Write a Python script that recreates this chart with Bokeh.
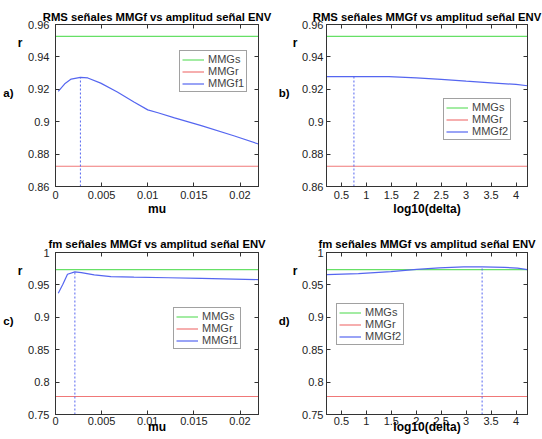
from bokeh.plotting import figure
from bokeh.layouts import column, row
from bokeh.models import Range1d, FixedTicker, LinearAxis, Legend, LegendItem
from bokeh.embed import file_html
from bokeh.resources import INLINE

# ---------------- data ----------------
title_rms = "RMS señales MMGf vs amplitud señal ENV"
title_fm = "fm señales MMGf vs amplitud señal ENV"

# panel a (RMS vs mu)
a_mu = [0.0003, 0.001, 0.0017, 0.0027, 0.0035, 0.0049, 0.0067, 0.0085, 0.010, 0.0111, 0.0129, 0.0158, 0.0194, 0.022]
a_r = [0.9187, 0.9234, 0.9263, 0.9274, 0.9270, 0.9238, 0.9183, 0.9121, 0.9073, 0.9055, 0.9024, 0.8976, 0.8912, 0.8862]
a_peak = (0.0027, 0.9274)

# panel b (RMS vs log10(delta))
b_delta = [0.2, 0.7, 1.0, 1.45, 2.0, 2.5, 3.0, 3.5, 4.0, 4.23]
b_r = [0.9278, 0.9278, 0.9278, 0.9278, 0.9271, 0.9261, 0.9250, 0.9240, 0.9230, 0.9222]
b_peak = (0.75, 0.9278)

rms_mmgs = 0.9527
rms_mmgr = 0.8725

# panel c (fm vs mu)
c_mu = [0.0003, 0.0008, 0.0013, 0.0021, 0.0028, 0.0042, 0.006, 0.0085, 0.0122, 0.0158, 0.022]
c_r = [0.9371, 0.951, 0.9665, 0.9701, 0.969, 0.9655, 0.9629, 0.962, 0.961, 0.960, 0.9582]
c_peak = (0.0021, 0.9701)

# panel d (fm vs log10(delta))
d_delta = [0.2, 0.84, 1.49, 2.01, 2.46, 2.95, 3.32, 3.77, 4.03, 4.23]
d_r = [0.966, 0.9675, 0.9706, 0.974, 0.9763, 0.9778, 0.9778, 0.977, 0.976, 0.9737]
d_peak = (3.32, 0.9778)

fm_mmgs = 0.9737
fm_mmgr = 0.7778

mu_ticks = [0, 0.005, 0.01, 0.015, 0.02]
mu_labels = ["0", "0.005", "0.01", "0.015", "0.02"]
delta_ticks = [0.5, 1, 1.5, 2, 2.5, 3, 3.5, 4]
delta_labels = ["0.5", "1", "1.5", "2", "2.5", "3", "3.5", "4"]
rms_ticks = [0.86, 0.88, 0.90, 0.92, 0.94, 0.96]
rms_labels = ["0.86", "0.88", "0.9", "0.92", "0.94", "0.96"]
fm_ticks = [0.75, 0.80, 0.85, 0.90, 0.95, 1.0]
fm_labels = ["0.75", "0.8", "0.85", "0.9", "0.95", "1"]

mu_range = (0, 0.022)
delta_range = (0.2, 4.23)
rms_range = (0.86, 0.96)
fm_range = (0.75, 1.0)

FONT = "Liberation Sans"
GREEN = "#66e066"
RED = "#f07878"
BLUE = "#5566f0"
AX = "#333333"


def text_axis(ticks, labels, standoff, size):
    ax = LinearAxis(ticker=FixedTicker(ticks=ticks), major_label_overrides=dict(zip(ticks, labels)))
    ax.axis_line_color = None
    ax.major_tick_line_color = None
    ax.minor_tick_line_color = None
    ax.major_tick_in = 0
    ax.major_tick_out = 0
    ax.major_label_standoff = standoff
    ax.major_label_text_font = FONT
    ax.major_label_text_font_style = "bold"
    ax.major_label_text_font_size = size
    ax.major_label_text_color = "black"
    return ax


def make_panel(xs, ys, peak, mmgs, mmgr, xr, yr, xt, xl, yt, yl, title, xlabel,
               panel_label, fname, size, borders, legend_loc, num_standoff,
               r_standoff, p_standoff, tick_standoff, xlab_standoff, title_standoff):
    w, h = size
    bl, br, bt, bb = borders
    p = figure(width=w, height=h, min_border_left=bl, min_border_right=br,
               min_border_top=bt, min_border_bottom=bb,
               x_range=Range1d(*xr), y_range=Range1d(*yr),
               output_backend="svg", toolbar_location=None, x_axis_type=None, y_axis_type=None)
    p.grid.visible = False
    p.outline_line_color = AX
    p.outline_line_width = 1
    p.background_fill_color = "white"
    p.border_fill_color = "white"

    p.title.text = title
    p.title.align = "center"
    p.title.text_font = FONT
    p.title.text_font_size = "11.3px"
    p.title.text_font_style = "bold"
    p.title.text_color = "black"
    p.title.standoff = title_standoff

    xb = LinearAxis(ticker=FixedTicker(ticks=xt), major_label_overrides=dict(zip(xt, xl)))
    xtop = LinearAxis(ticker=FixedTicker(ticks=xt), major_label_overrides={t: "" for t in xt})
    yl_ax = LinearAxis(ticker=FixedTicker(ticks=yt), major_label_overrides=dict(zip(yt, yl)))
    yr_ax = LinearAxis(ticker=FixedTicker(ticks=yt), major_label_overrides={t: "" for t in yt})
    for ax, on in ((xb, True), (xtop, False), (yl_ax, True), (yr_ax, False)):
        ax.axis_line_color = AX
        ax.major_tick_line_color = AX
        ax.major_tick_in = 4
        ax.major_tick_out = 0
        ax.minor_tick_line_color = None
        ax.major_label_text_font = FONT
        ax.major_label_text_font_size = "11px" if on else "0px"
        ax.major_label_text_color = "#222222"
        ax.major_label_standoff = 0
    xb.major_label_standoff = tick_standoff
    yl_ax.major_label_standoff = num_standoff
    xb.axis_label = xlabel
    xb.axis_label_text_font = FONT
    xb.axis_label_text_font_size = "12px"
    xb.axis_label_text_font_style = "bold"
    xb.axis_label_text_color = "black"
    xb.axis_label_standoff = xlab_standoff

    # "r" near the top of the y axis and the panel letter further left
    span = yr[1] - yr[0]
    r_ax = text_axis([yr[1] - span * 0.117], ["r"], r_standoff, "12px")
    p_ax = text_axis([yr[1] - span * 0.42], [panel_label], p_standoff, "11.5px")

    p.add_layout(xb, "below")
    p.add_layout(xtop, "above")
    p.add_layout(yl_ax, "left")
    p.add_layout(r_ax, "left")
    p.add_layout(p_ax, "left")
    p.add_layout(yr_ax, "right")

    r_s = p.line([xr[0], xr[1]], [mmgs, mmgs], line_color=GREEN, line_width=1.2)
    r_r = p.line([xr[0], xr[1]], [mmgr, mmgr], line_color=RED, line_width=1.2)
    r_f = p.line(xs, ys, line_color=BLUE, line_width=1.2)
    p.segment(x0=[peak[0]], y0=[yr[0]], x1=[peak[0]], y1=[peak[1]],
              line_color=BLUE, line_width=1, line_dash="2 2")

    leg = Legend(items=[LegendItem(label="MMGs", renderers=[r_s]),
                        LegendItem(label="MMGr", renderers=[r_r]),
                        LegendItem(label=fname, renderers=[r_f])],
                 location=legend_loc)
    leg.label_text_font = FONT
    leg.label_text_font_size = "11px"
    leg.label_height = 11
    leg.glyph_height = 11
    leg.glyph_width = 22
    leg.label_standoff = 4
    leg.spacing = 0
    leg.padding = 2
    leg.margin = 0
    leg.border_line_color = "#444444"
    leg.border_line_width = 1
    leg.background_fill_color = "white"
    leg.background_fill_alpha = 1
    p.add_layout(leg, "center")
    return p


pa = make_panel(a_mu, a_r, a_peak, rms_mmgs, rms_mmgr, mu_range, rms_range, mu_ticks, mu_labels,
                rms_ticks, rms_labels, title_rms, "mu", "a)", "MMGf1",
                (275, 219), (55, 17, 24, 33), (124, 94), 6, 3, 1, 4, 0, 4)
pb = make_panel(b_delta, b_r, b_peak, rms_mmgs, rms_mmgr, delta_range, rms_range, delta_ticks, delta_labels,
                rms_ticks, rms_labels, title_rms, "log10(delta)", "b)", "MMGf2",
                (267, 219), (46, 15, 24, 33), (117, 46), 3, 2, 0, 4, 0, 4)
pc = make_panel(c_mu, c_r, c_peak, fm_mmgs, fm_mmgr, mu_range, fm_range, mu_ticks, mu_labels,
                fm_ticks, fm_labels, title_fm, "mu", "c)", "MMGf1",
                (275, 220), (54, 17, 33, 25), (118, 65), 6, 3, 1, 2, -8, 5)
pd_ = make_panel(d_delta, d_r, d_peak, fm_mmgs, fm_mmgr, delta_range, fm_range, delta_ticks, delta_labels,
                 fm_ticks, fm_labels, title_fm, "log10(delta)", "d)", "MMGf2",
                 (267, 220), (47, 15, 33, 25), (10, 69), 3, 2, 0, 2, -8, 5)

layout = column(row(pa, pb), row(pc, pd_))
open("out.html", "w").write(file_html(layout, INLINE))
